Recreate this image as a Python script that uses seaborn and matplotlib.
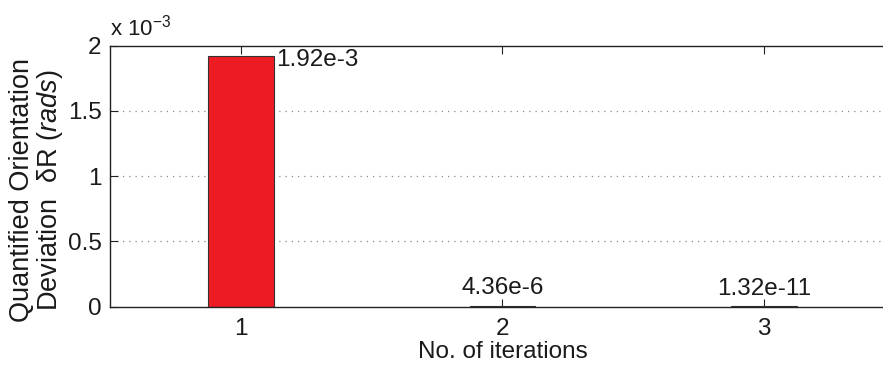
import matplotlib
matplotlib.use("Agg")
import matplotlib.pyplot as plt
import seaborn as sns
import pandas as pd
from matplotlib.ticker import FuncFormatter

# Orientation deviation after each iteration
iterations = ["1", "2", "3"]
deviation = [1.92e-3, 4.36e-6, 1.32e-11]
y_ticks = [0, 0.5e-3, 1.0e-3, 1.5e-3, 2.0e-3]

sns.set_theme(style="white")
plt.rcParams["font.family"] = ["Liberation Sans", "DejaVu Sans"]
plt.rcParams["mathtext.fontset"] = "custom"
plt.rcParams["mathtext.rm"] = "Liberation Sans"
plt.rcParams["mathtext.it"] = "Liberation Sans:italic"

FS = 17.5
TXT = "#1a1a1a"

df = pd.DataFrame({"iteration": iterations, "deviation": deviation})

fig = plt.figure(figsize=(8.83, 3.65), dpi=100)
ax = fig.add_axes([110 / 883, 58.5 / 365, 785 / 883, 261 / 365])

sns.barplot(data=df, x="iteration", y="deviation", ax=ax, width=0.25,
            color="#ED1C24", saturation=1, edgecolor="#333333", linewidth=0.8)

ax.set_xlim(-0.5, 2.5)
ax.set_ylim(0, 2e-3)
ax.set_yticks(y_ticks)
ax.yaxis.set_major_formatter(FuncFormatter(lambda v, p: f"{v * 1e3:g}"))
ax.text(0.0, 1.02, r"x 10$^{-3}$", transform=ax.transAxes, fontsize=16,
        ha="left", va="bottom", color=TXT)

for y in y_ticks[1:-1]:
    ax.axhline(y, color="#888888", linestyle=(0, (1, 4)), linewidth=0.9, zorder=0)

for name in ["top", "bottom", "left", "right"]:
    ax.spines[name].set_color("#222222")
    ax.spines[name].set_linewidth(1.0)

ax.tick_params(axis="both", direction="in", length=6, width=0.8, color="#222222",
               labelsize=FS, labelcolor=TXT,
               top=True, right=True, bottom=True, left=True)
ax.tick_params(axis="x", pad=8)
ax.tick_params(axis="y", pad=6)


def fmt_sci(v):
    mant, exp = f"{v:.2e}".split("e")
    return f"{mant}e{int(exp)}"


for i, v in enumerate(deviation):
    if i == 0:
        ax.annotate(fmt_sci(v), xy=(i + 0.125, v), xytext=(2, -3),
                    textcoords="offset points", ha="left", va="center",
                    fontsize=FS, color=TXT)
    else:
        ax.annotate(fmt_sci(v), xy=(i, v), xytext=(0, 5),
                    textcoords="offset points", ha="center", va="bottom",
                    fontsize=FS, color=TXT)

ax.set_xlabel("No. of iterations", fontsize=FS, color=TXT, labelpad=1)
ax.set_ylabel("Quantified Orientation\n" + r"Deviation  δR ($\it{rads}$)",
              fontsize=19.5, color=TXT, linespacing=1.0)
ax.yaxis.set_label_coords(-0.057, 0.446)

fig.savefig("out.png", dpi=100)
